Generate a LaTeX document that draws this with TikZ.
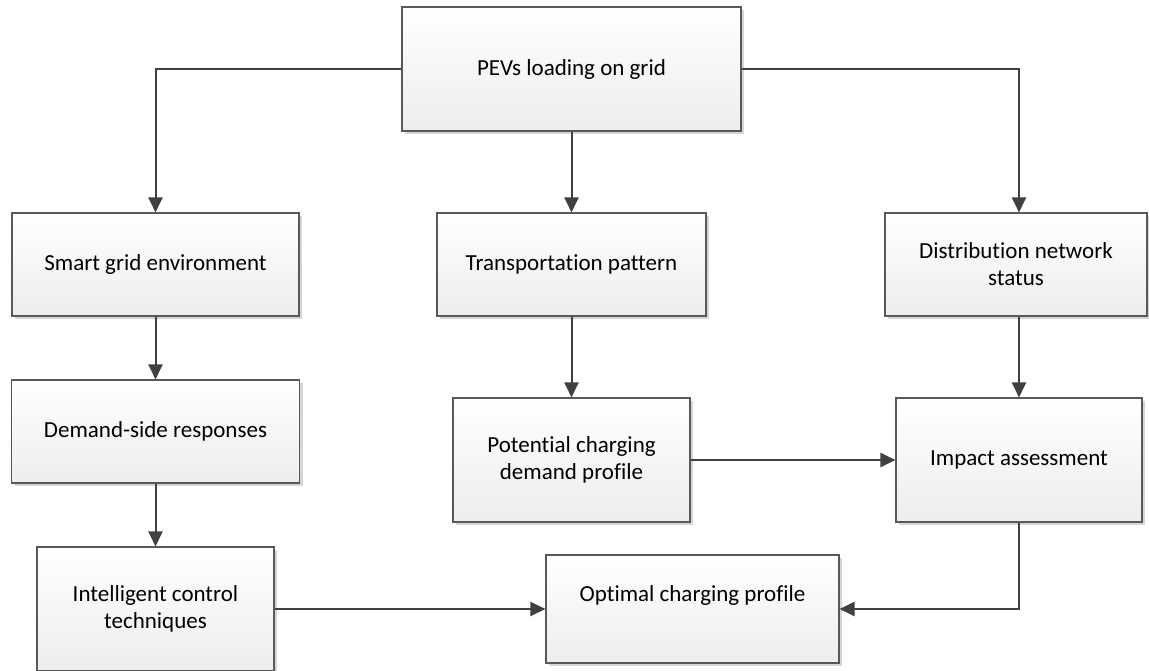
\documentclass[tikz,border=0pt]{standalone}
\usepackage{fontspec}
\setmainfont{Carlito}[Ligatures=NoCommon]
\usetikzlibrary{arrows.meta,shadows}
\definecolor{boxline}{HTML}{595959}
\definecolor{wire}{HTML}{404040}
\definecolor{boxshade}{HTML}{D6D6D6}
\begin{document}
\begin{tikzpicture}[x=1pt,y=-1pt,
  box/.style={draw=boxline, line width=1.1pt, rectangle, inner sep=0pt,
    top color=white, bottom color=black!7,
    drop shadow={shadow xshift=3pt, shadow yshift=-3pt, fill=boxshade, opacity=1},
    align=center, font=\fontsize{23}{27}\selectfont},
  boxtext/.style={font=\fontsize{23}{27}\selectfont, inner sep=0pt},
  link/.style={draw=wire, line width=2pt, -{Triangle[length=15pt,width=14pt]}}]
\clip (0,0) rectangle (1149,670);
\fill[white] (0,0) rectangle (1149,670);

% process boxes
\node[box, minimum width=339, minimum height=124] (pev)    at (571.5,69)   {PEVs loading on grid};
\node[box, minimum width=287, minimum height=103] (smart)  at (155.5,264.5) {Smart grid environment};
\node[box, minimum width=269, minimum height=103] (trans)  at (571.5,264.5) {Transportation pattern};
\node[box, minimum width=262, minimum height=103] (dist)   at (1016,264.5) {Distribution network\\status};
\node[box, minimum width=288, minimum height=103] (demand) at (155.5,431.5)  {Demand-side responses};
\node[box, minimum width=237, minimum height=124] (pot)    at (571.5,460)  {Potential charging\\demand profile};
\node[box, minimum width=246, minimum height=124] (impact) at (1019,460)   {Impact assessment};
\node[box, minimum width=237, minimum height=124] (intel)  at (155.5,609) {Intelligent control\\techniques};
\node[box, minimum width=293, minimum height=108,
      label={[boxtext, yshift=14pt]center:Optimal charging profile}] (opt) at (692.5,609) {};

% connectors
\draw[link] (pev.west) -| (smart.north);
\draw[link] (pev.south) -- (trans.north);
\draw[link] (pev.east) -| (impact.north |- dist.north);
\draw[link] (smart.south) -- (demand.north);
\draw[link] (demand.south) -- (intel.north);
\draw[link] (trans.south) -- (pot.north);
\draw[link] (impact.north |- dist.south) -- (impact.north);
\draw[link] (pot.east) -- (impact.west);
\draw[link] (intel.east) -- (opt.west);
\draw[link] (impact.south) |- (opt.east);
\end{tikzpicture}
\end{document}
